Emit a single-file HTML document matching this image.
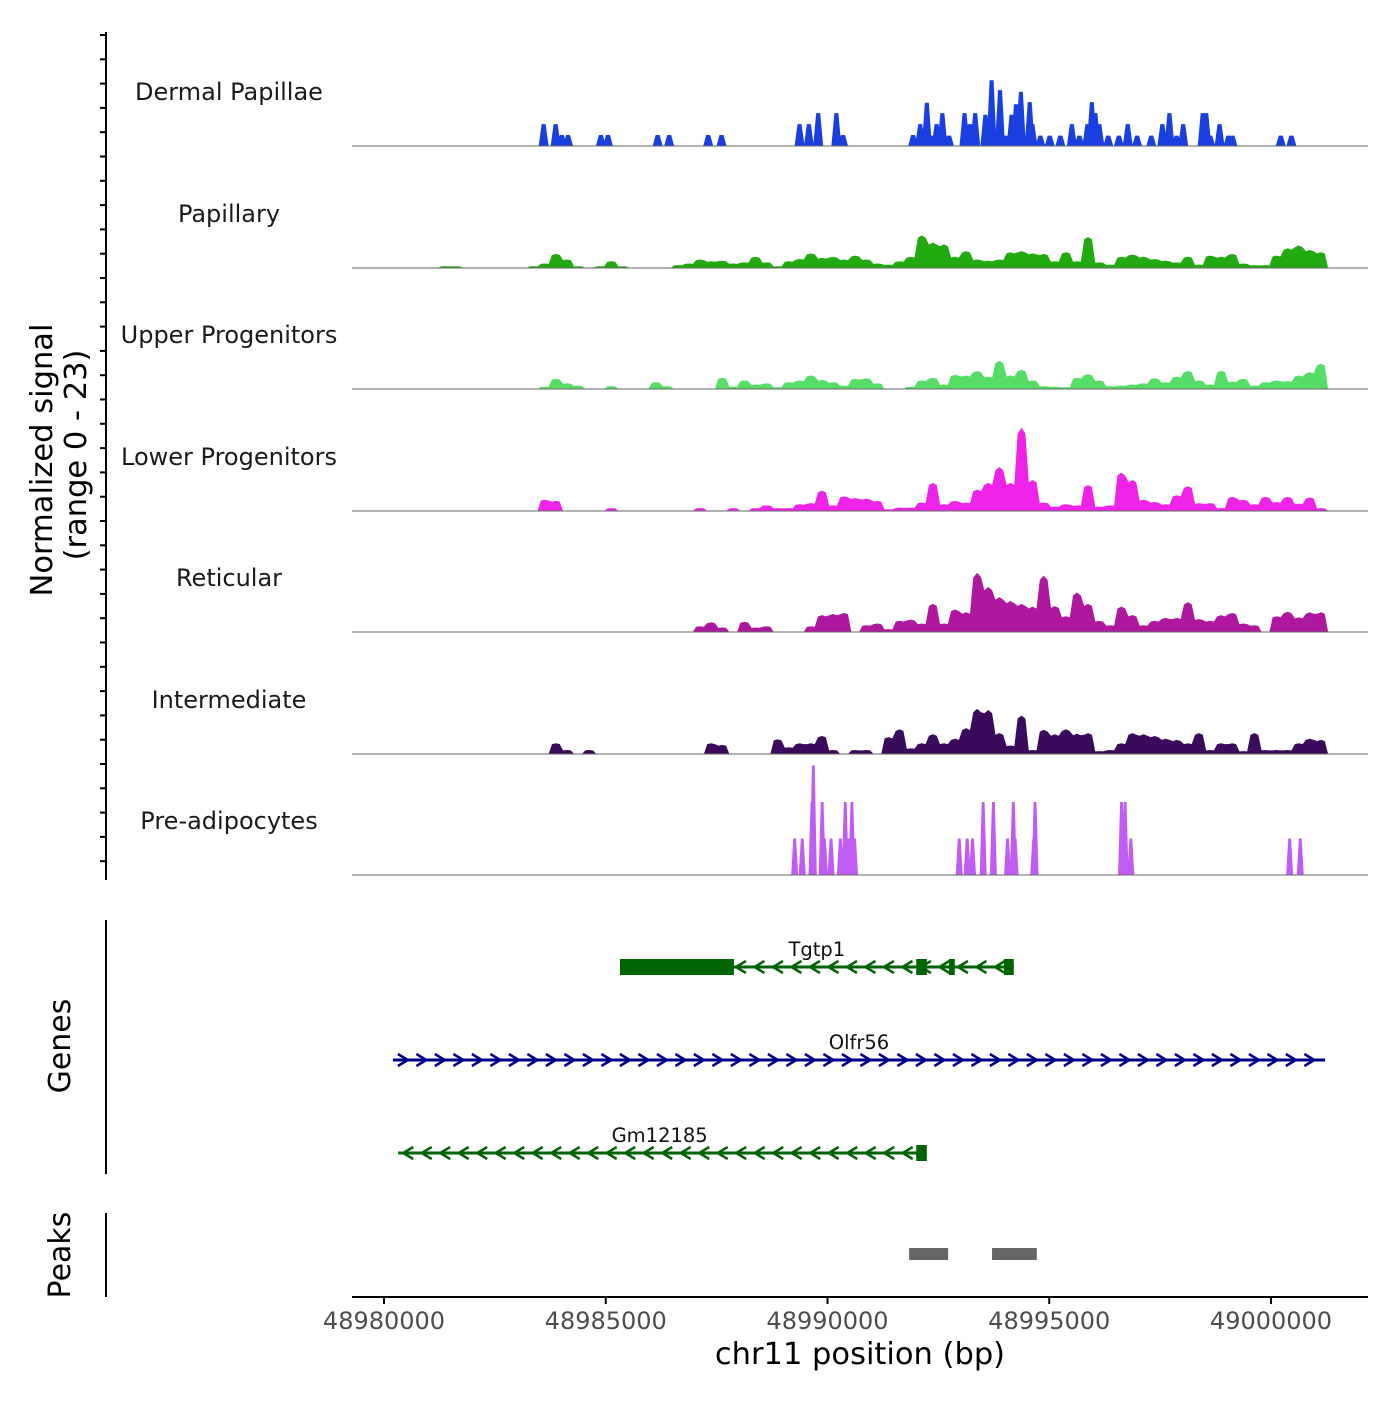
<!DOCTYPE html>
<html><head><meta charset="utf-8"><style>
html,body{margin:0;padding:0;background:#fff}
svg text{font-family:"DejaVu Sans","Liberation Sans",sans-serif}
</style></head><body>
<svg id="chart" width="1400" height="1400" viewBox="0 0 1400 1400" xmlns="http://www.w3.org/2000/svg">
<rect width="1400" height="1400" fill="#fff"/>
<g id="tracks"></g>
<g id="genes"></g>
<g id="peaks"></g>
<g id="axes"></g>
</svg>
<script>
// ---- data (positions in kb offset from 48980000) ----
const trackNames = ["Dermal Papillae","Papillary","Upper Progenitors","Lower Progenitors","Reticular","Intermediate","Pre-adipocytes"];
const trackColors = ["#1a3fe0","#22aa11","#55dd66","#ee22e8","#b0179f","#3a0a5c","#c05cf5"];
const yMax = 23;
const binStart = 1.0;
const binWidth = 0.25;
const dermalPos = [3.60,3.87,4.01,4.15,4.89,5.05,6.17,6.43,7.31,7.61,9.37,9.58,9.79,10.20,10.35,11.93,12.09,12.24,12.38,12.46,12.59,12.74,13.09,13.21,13.33,13.56,13.70,13.89,14.01,14.15,14.25,14.36,14.56,14.62,14.80,15.01,15.25,15.51,15.68,15.86,15.96,16.04,16.13,16.33,16.57,16.77,16.98,17.30,17.55,17.71,17.87,18.02,18.46,18.54,18.63,18.84,19.04,19.13,20.22,20.46];
const dermalVal = [4.2,4.2,2.1,2.1,2.1,2.1,2.1,2.1,2.1,2.1,4.2,4.2,6.3,6.3,2.1,2.1,4.2,8.3,2,4.2,6.3,2,6.3,4.2,6.3,6,12.6,10.7,2,6,8,10.4,8.4,4.2,2,2,2,4.2,2,4.2,8.4,6.3,4.2,2,2,4.2,2,2,4.2,6.3,2,4.2,6.3,6.3,2,4.2,2,2,2,2];
const papillary = [0,0.3,0.3,0,0,0,0,0,0,0.3,0.8,2.5,1.5,0.3,0,0.3,1.2,0.3,0,0,0,0,0.5,0.8,1.5,1.2,1.3,0.8,1.0,2.0,1.0,0.3,1.2,1.6,2.6,1.8,2.0,1.5,2.2,1.5,0.8,0.6,1.2,2.0,5.8,4.5,4.2,2.0,3.0,1.5,1.3,1.5,2.8,3.0,2.6,2.5,1.2,2.8,1.2,5.5,1.0,0.6,2.0,2.4,2.0,1.6,1.3,1.0,2.0,0.6,2.2,2.0,2.5,0.8,0.5,0.5,2.2,3.5,4.0,3.2,2.8,0];
const upper = [0,0,0,0,0,0,0,0,0,0,0.4,1.8,1.0,0.6,0,0,0.5,0,0,0,1.2,0.5,0,0,0,0,2.0,0.4,1.5,0.8,1.0,0.3,1.2,1.5,2.4,1.6,1.2,0.6,1.8,1.9,1.0,0,0,0.4,1.5,2.0,0.8,2.5,2.4,3.2,2.2,5.0,2.4,3.4,1.5,0.5,0.4,0.3,2.0,2.6,1.5,0.5,0.6,0.8,1.0,1.9,1.2,2.2,3.2,1.5,0.8,3.2,1.3,1.8,0.6,1.2,1.5,1.4,2.4,3.0,4.5,0];
const lower = [0,0,0,0,0,0,0,0,0,0,2.0,1.8,0,0,0,0,0.5,0,0,0,0,0,0,0,0.5,0,0,0.5,0,0.5,1.0,0.5,0.5,1.2,1.4,3.6,1.0,2.6,2.3,2.2,1.8,0.3,0.6,0.6,1.5,5.0,1.2,1.8,1.5,3.8,5.0,7.8,5.0,14.8,5.5,1.5,0.8,1.2,1.0,4.6,0.8,1.0,6.8,5.5,2.0,1.6,1.2,2.8,4.4,1.4,1.4,0.5,2.5,2.0,1.2,2.5,1.6,2.5,1.3,2.4,0.5,0];
const reticular = [0,0,0,0,0,0,0,0,0,0,0,0,0,0,0,0,0,0,0,0,0,0,0,0,1.0,1.7,0.8,0,1.8,0.8,1.0,0,0,0,1.0,3.0,3.2,3.4,0,1.2,1.5,0.5,2.0,2.2,1.5,5.0,1.5,4.0,3.5,10.5,8.0,6.2,5.5,5.0,4.5,10.0,4.6,2.8,7.0,5.0,2.0,1.2,4.5,3.0,1.2,2.0,2.5,2.5,5.3,2.3,2.0,3.0,3.4,1.5,1.2,0,2.8,3.6,2.6,3.5,3.5,0];
const intermediate = [0,0,0,0,0,0,0,0,0,0,0,1.9,0.7,0,0.7,0,0,0,0,0,0,0,0,0,0,1.9,1.6,0,0,0,0,2.6,1.2,1.9,1.9,3.2,0.7,0,0.7,0.7,0,3.0,4.4,1.0,1.9,3.5,1.9,2.7,4.6,8.0,7.8,3.7,1.5,6.8,0.7,4.3,3.5,4.4,3.6,3.7,0.5,0.7,1.9,3.7,3.5,3.2,2.7,2.5,1.9,3.7,0.7,1.9,1.9,0.5,3.7,0.7,0.7,0.7,1.9,2.7,2.5,0];
const adipoPos = [9.26,9.43,9.65,9.68,9.88,9.93,10.08,10.29,10.40,10.47,10.55,10.61,12.97,13.15,13.27,13.51,13.74,14.06,14.19,14.23,14.65,14.68,16.63,16.71,16.84,20.42,20.66];
const adipoVal = [7,7,14,21,14,7,7,7,14,7,14,7,7,7,7,14,14,7,14,7,7,14,14,14,7,7,7];
const xTicks = [48980000,48985000,48990000,48995000,49000000];
const peakStarts = [11.84,13.71];
const peakEnds = [12.72,14.72];
const geneNames = ["Tgtp1","Olfr56","Gm12185"];
const geneStarts = [5.32,0.2,0.32];
const geneEnds = [14.2,21.22,12.11];
const geneStrands = [-1,1,-1];
const geneColors = ["#006400","#00008b","#006400"];
const exonGene = [0,0,0,0,2];
const exonStarts = [5.32,12.0,12.74,13.98,12.0];
const exonEnds = [7.89,12.24,12.87,14.2,12.24];

// ---- scales ----
const NS="http://www.w3.org/2000/svg";
const X0=352,X1=1368;
const kbToX = kb => 384 + kb*44.35;
const bpToX = bp => kbToX((bp-48980000)/1000);
const baselines=[146,268,389,511,632,754,875];
const trackH=120;
const yOf=(t,v)=>baselines[t]-v/yMax*trackH;
function el(tag,attrs,parent,text){const e=document.createElementNS(NS,tag);for(const k in attrs)e.setAttribute(k,attrs[k]);if(text!==undefined)e.textContent=text;parent.appendChild(e);return e;}

const tracks=document.getElementById('tracks');
function binPath(t,vals){
  let d=`M${kbToX(binStart)},${baselines[t]}`;
  vals.forEach((v,i)=>{
    const xa=kbToX(binStart+i*binWidth), xb=kbToX(binStart+(i+1)*binWidth), y=yOf(t,v);
    const w=xb-xa;
    d+=` L${xa+w*0.15},${y} L${xa+w*0.5},${yOf(t,v*1.08)} L${xb-w*0.15},${y}`;
  });
  d+=` L${kbToX(binStart+vals.length*binWidth)},${baselines[t]} Z`;
  return d;
}
function spikePath(t,pos,vals,w){
  let d='';
  pos.forEach((p,i)=>{
    const x=kbToX(p),y=yOf(t,vals[i]),b=baselines[t];
    d+=`M${x-w},${b} L${x-w*0.4},${y} L${x+w*0.4},${y} L${x+w},${b} Z `;
  });
  return d;
}
const dense=[null,papillary,upper,lower,reticular,intermediate,null];
for(let t=0;t<7;t++){
  const g=el('g',{},tracks);
  
  
  let d;
  if(t===0) d=spikePath(0,dermalPos,dermalVal,5);
  else if(t===6) d=spikePath(6,adipoPos,adipoVal,3.5);
  else d=binPath(t,dense[t]);
  const p=el('path',{d:d,fill:trackColors[t]},g);
  
  
  const bl=el('line',{x1:X0,x2:X1,y1:baselines[t],y2:baselines[t],stroke:'#666','stroke-width':1},g);
  
  
  const lb=el('text',{x:229,y:baselines[t]-46,'text-anchor':'middle','font-size':24,fill:'#1a1a1a'},g,trackNames[t]);
  
  
}

// genes
const genes=document.getElementById('genes');
const geneY=[967,1060,1153];
geneNames.forEach((n,i)=>{
  const g=el('g',{},genes);
  
  
  const y=geneY[i],c=geneColors[i],xa=kbToX(geneStarts[i]),xb=kbToX(geneEnds[i]);
  el('line',{x1:xa,x2:xb,y1:y,y2:y,stroke:c,'stroke-width':3},g);
  for(let x=xa+10;x<xb-4;x+=18.5){
    const s=geneStrands[i]*5;
    el('polyline',{points:`${x-s},${y-6} ${x+s},${y} ${x-s},${y+6}`,fill:'none',stroke:c,'stroke-width':2.5},g);
  }
  exonGene.forEach((gi,k)=>{ if(gi===i){
    el('rect',{x:kbToX(exonStarts[k]),y:y-8,width:kbToX(exonEnds[k])-kbToX(exonStarts[k]),height:16,fill:c},g);
  }});
  const lb=el('text',{x:(xa+xb)/2,y:y-11,'text-anchor':'middle','font-size':19.5,fill:'#111'},g,n);
  
  
});

// peaks
const peaks=document.getElementById('peaks');
peakStarts.forEach((s,i)=>{
  const r=el('rect',{x:kbToX(s),y:1248,width:kbToX(peakEnds[i])-kbToX(s),height:12,fill:'#666'},peaks);
  
  
});

// axes
const ax=document.getElementById('axes');
el('line',{x1:106,x2:106,y1:32,y2:880,stroke:'#000','stroke-width':2},ax);
for(let y=35;y<=878;y+=24.3) el('line',{x1:100,x2:106,y1:y,y2:y,stroke:'#000','stroke-width':2},ax);
el('line',{x1:106,x2:106,y1:920,y2:1174,stroke:'#000','stroke-width':2},ax);
el('line',{x1:106,x2:106,y1:1213,y2:1297,stroke:'#000','stroke-width':2},ax);
el('line',{x1:X0,x2:X1,y1:1297,y2:1297,stroke:'#000','stroke-width':2},ax);
xTicks.forEach(v=>{
  const x=bpToX(v);
  el('line',{x1:x,x2:x,y1:1297,y2:1304,stroke:'#000','stroke-width':2},ax);
  const t=el('text',{x:x,y:1329,'text-anchor':'middle','font-size':24,fill:'#4d4d4d'},ax,String(v));
  
  
});
const xt=el('text',{x:860,y:1364,'text-anchor':'middle','font-size':30.5,fill:'#000'},ax,'chr11 position (bp)');


const yt=el('text',{transform:'translate(52,460) rotate(-90)','text-anchor':'middle','font-size':30.5,fill:'#000'},ax,'Normalized signal');


const yt2=el('text',{transform:'translate(86,455) rotate(-90)','text-anchor':'middle','font-size':30.5,fill:'#000'},ax,'(range 0 - 23)');


const gt=el('text',{transform:'translate(70,1046) rotate(-90)','text-anchor':'middle','font-size':30,fill:'#000'},ax,'Genes');


const pt=el('text',{transform:'translate(70,1255) rotate(-90)','text-anchor':'middle','font-size':30,fill:'#000'},ax,'Peaks');


</script>
</body></html>
